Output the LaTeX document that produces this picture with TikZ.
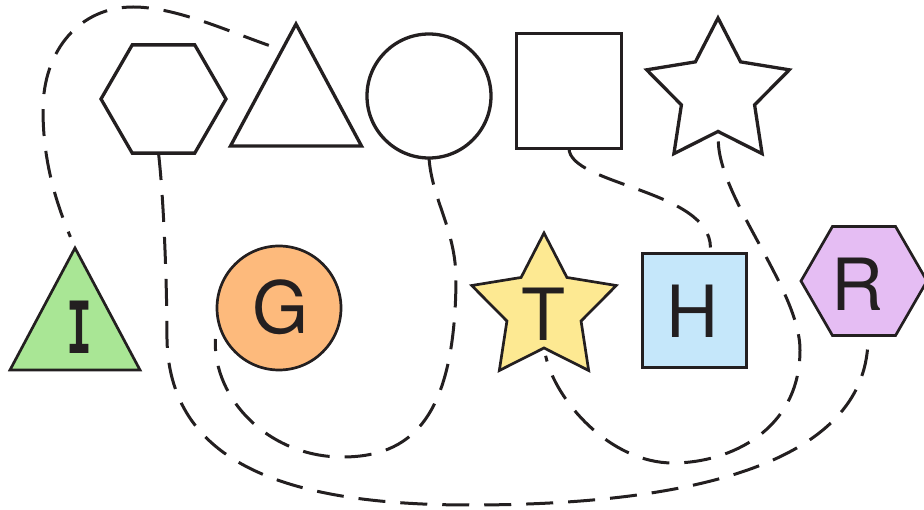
\documentclass[tikz,border=0pt]{standalone}
\usepackage{fontspec}
\usepackage{tikz}
\usetikzlibrary{shapes.geometric}
\newfontfamily\letterfont{TeX Gyre Heros}
\newfontfamily\barfont[FakeStretch=0.6]{DejaVu Sans Mono Bold}
\definecolor{ink}{HTML}{231F20}
\definecolor{leaf}{HTML}{A9E695}
\definecolor{peach}{HTML}{FDBA7C}
\definecolor{butter}{HTML}{FDE992}
\definecolor{sky}{HTML}{C5E7FA}
\definecolor{lilac}{HTML}{E5BDF3}

\begin{document}
\begin{tikzpicture}[x=1pt,y=1pt,
    hollow/.style={draw=ink, line width=3.3pt, inner sep=0pt, outer sep=0pt},
    filled/.style={draw=ink, line width=2.7pt, inner sep=0pt, outer sep=0pt},
    letter/.style={font=\letterfont\fontsize{72}{72}\selectfont, text=ink, inner sep=0pt},
    link/.style={draw=ink, line width=3pt, dash pattern=on 27pt off 15pt}]
   \useasboundingbox (0,0) rectangle (924,-510);

   % top row
   \node[hollow, regular polygon, regular polygon sides=6, minimum size=125pt] (hex_0) at (163.5,-99) {};
   \node[hollow, isosceles triangle, shape border rotate=90, isosceles triangle stretches,
         minimum width=131pt, minimum height=122pt, anchor=apex] (tri_0) at (296,-24) {};
   \node[hollow, circle, minimum size=124pt] (circ_0) at (429,-96) {};
   \node[hollow, rectangle, minimum width=105pt, minimum height=115pt] (sq_0) at (569,-91) {};
   \node[hollow, star, star points=5, star point ratio=1.95, minimum size=150pt] (star_0) at (718,-93) {};

   % bottom row
   \node[filled, fill=leaf, isosceles triangle, shape border rotate=90, isosceles triangle stretches,
         minimum width=130pt, minimum height=122pt, anchor=apex] (tri_1) at (75,-248) {};
   \node[filled, fill=peach, circle, minimum size=124pt] (circ_1) at (279,-308) {};
   \node[filled, fill=butter, star, star points=5, star point ratio=1.95, minimum size=152pt] (star_1) at (544,-309) {};
   \node[filled, fill=sky, rectangle, minimum width=104pt, minimum height=114pt] (sq_1) at (694.5,-310.5) {};
   \node[filled, fill=lilac, regular polygon, regular polygon sides=6, minimum size=126pt] (hex_1) at (864,-281) {};

   \node[letter, font=\barfont\fontsize{72}{72}\selectfont] (I) at (80,-327) {I};
   \node[letter] (G) at (281,-307) {G};
   \node[letter] (T) at (543,-314) {T};
   \node[letter] (H) at (692,-311) {H};
   \node[letter] (R) at (857,-284) {R};

   % dashed links
   \draw[link, shorten <=14pt, shorten >=12pt] ([xshift=-14pt,yshift=-26pt]tri_0.apex)
      .. controls (225,-30) and (175,-7) .. (133,-7)
      .. controls (80,-7) and (43,-50) .. (43,-110)
      .. controls (43,-160) and (55,-200) .. (tri_1.apex);
   \draw[link] ([xshift=-5pt]hex_0.south)
      .. controls (164,-200) and (167,-290) .. (167,-340)
      .. controls (170,-470) and (300,-505) .. (470,-505)
      .. controls (700,-505) and (870,-460) .. ([xshift=4pt]hex_1.south);
   \draw[link] (circ_0.south)
      .. controls (432,-200) and (456,-230) .. (456,-280)
      .. controls (455,-420) and (410,-457) .. (342,-457)
      .. controls (270,-457) and (213,-400) .. ([xshift=-10pt]circ_1.210);
   \draw[link, shorten >=6pt] (sq_0.south)
      .. controls (570,-185) and (710,-190) .. ([xshift=16pt]sq_1.north);
   \draw[link, shorten <=10pt, shorten >=8pt] (star_0.inner point 3)
      .. controls (720,-200) and (800,-290) .. (800,-350)
      .. controls (800,-430) and (730,-463) .. (673,-463)
      .. controls (610,-463) and (555,-400) .. (star_1.inner point 3);
\end{tikzpicture}
\end{document}
